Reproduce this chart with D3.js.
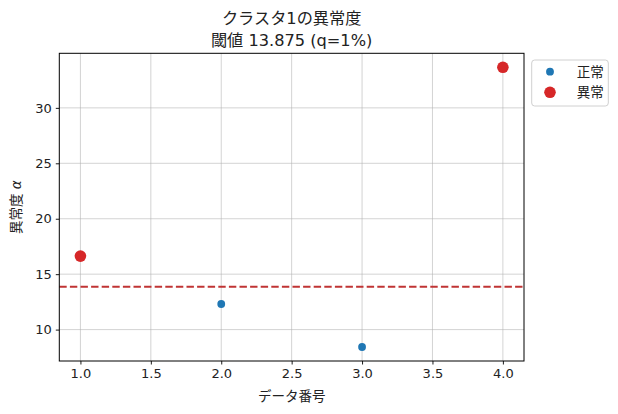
<!DOCTYPE html>
<html lang="ja">
<head>
  <meta charset="UTF-8">
  <title>クラスタ1の異常度</title>
  <script src="https://d3js.org/d3.v7.min.js"></script>
  <style>
    body {
      margin: 0;
      padding: 0;
      background: #fff;
      font-family: "DejaVu Sans", "Noto Sans CJK JP", sans-serif;
    }
    svg text {
      fill: #222;
    }
  </style>
</head>
<body>
  <div id="chart"></div>

  <script>
    // data
    const dataIndex = [1, 2, 3, 4];
    const scores = [16.63, 12.31, 8.43, 33.66];
    const isAnomaly = [true, false, false, true];
    const threshold = 13.875;

    const xTicks = [1.0, 1.5, 2.0, 2.5, 3.0, 3.5, 4.0];
    const yTicks = [10, 15, 20, 25, 30];
    const legendLabels = ["正常", "異常"];

    const width = 618;
    const height = 414;
    const plot = { left: 59.3, right: 524, top: 53.3, bottom: 361 };
    const font = "'DejaVu Sans', 'Noto Sans CJK JP', sans-serif";

    const blue = "#1f77b4";
    const red = "#d62728";

    const svg = d3.select("#chart")
      .append("svg")
      .attr("width", width)
      .attr("height", height)
      .style("font-family", font);

    // matplotlib style 5% margins
    const xExt = d3.extent(dataIndex);
    const xPad = (xExt[1] - xExt[0]) * 0.05;
    const yExt = d3.extent(scores);
    const yPad = (yExt[1] - yExt[0]) * 0.05;

    const x = d3.scaleLinear()
      .domain([xExt[0] - xPad, xExt[1] + xPad])
      .range([plot.left, plot.right]);

    const y = d3.scaleLinear()
      .domain([yExt[0] - yPad, yExt[1] + yPad])
      .range([plot.bottom, plot.top]);

    // grid
    const grid = svg.append("g");
    grid.selectAll(".gx")
      .data(xTicks)
      .join("line")
      .attr("x1", d => x(d)).attr("x2", d => x(d))
      .attr("y1", plot.top).attr("y2", plot.bottom)
      .attr("stroke", "#b0b0b0").attr("stroke-opacity", 0.7).attr("stroke-width", 0.8);
    grid.selectAll(".gy")
      .data(yTicks)
      .join("line")
      .attr("x1", plot.left).attr("x2", plot.right)
      .attr("y1", d => y(d)).attr("y2", d => y(d))
      .attr("stroke", "#b0b0b0").attr("stroke-opacity", 0.7).attr("stroke-width", 0.8);

    // threshold line
    svg.append("line")
      .attr("x1", plot.left).attr("x2", plot.right)
      .attr("y1", y(threshold)).attr("y2", y(threshold))
      .attr("stroke", "#c03434")
      .attr("stroke-width", 2)
      .attr("stroke-dasharray", "7.4 3.2");

    // points
    const pts = dataIndex.map((d, i) => ({ x: d, v: scores[i], a: isAnomaly[i] }));
    svg.append("g")
      .selectAll("circle")
      .data(pts)
      .join("circle")
      .attr("cx", d => x(d.x))
      .attr("cy", d => y(d.v))
      .attr("r", d => d.a ? 5.8 : 3.9)
      .attr("fill", d => d.a ? red : blue);

    // axes
    const xAxis = svg.append("g")
      .attr("transform", `translate(0,${plot.bottom})`)
      .call(d3.axisBottom(x).tickValues(xTicks).tickFormat(d3.format(".1f")).tickSize(3.5).tickPadding(4));
    const yAxis = svg.append("g")
      .attr("transform", `translate(${plot.left},0)`)
      .call(d3.axisLeft(y).tickValues(yTicks).tickSize(3.5).tickPadding(4));

    [xAxis, yAxis].forEach(ax => {
      ax.select(".domain").remove();
      ax.selectAll("line").attr("stroke", "#000").attr("stroke-width", 0.9);
      ax.selectAll("text")
        .style("font-family", font)
        .style("font-size", "13px")
        .attr("fill", "#222");
    });

    // frame
    svg.append("rect")
      .attr("x", plot.left).attr("y", plot.top)
      .attr("width", plot.right - plot.left)
      .attr("height", plot.bottom - plot.top)
      .attr("fill", "none")
      .attr("stroke", "#000")
      .attr("stroke-width", 1);

    // titles
    const cx = (plot.left + plot.right) / 2;
    svg.append("text")
      .attr("x", cx).attr("y", 24)
      .attr("text-anchor", "middle")
      .style("font-size", "16.2px")
      .text("クラスタ1の異常度");
    svg.append("text")
      .attr("x", cx).attr("y", 46)
      .attr("text-anchor", "middle")
      .style("font-size", "16.2px")
      .text("閾値 13.875 (q=1%)");

    svg.append("text")
      .attr("x", cx).attr("y", 401)
      .attr("text-anchor", "middle")
      .style("font-size", "13.5px")
      .text("データ番号");

    const yl = svg.append("text")
      .attr("transform", `translate(21,${(plot.top + plot.bottom) / 2}) rotate(-90)`)
      .attr("text-anchor", "middle")
      .style("font-size", "13.5px");
    yl.append("tspan").text("異常度 ");
    yl.append("tspan").style("font-style", "italic").text("α");

    // legend
    const lg = svg.append("g").attr("transform", "translate(531.7,60)");
    lg.append("rect")
      .attr("width", 76.6).attr("height", 46)
      .attr("rx", 3)
      .attr("fill", "#fff").attr("fill-opacity", 0.8)
      .attr("stroke", "#d0d0d0");
    legendLabels.forEach((label, i) => {
      const ly = 11.7 + i * 20.6;
      lg.append("circle")
        .attr("cx", 18.3).attr("cy", ly)
        .attr("r", i === 0 ? 3.9 : 5.8)
        .attr("fill", i === 0 ? blue : red);
      lg.append("text")
        .attr("x", 45).attr("y", ly + 4.8)
        .style("font-size", "13.5px")
        .text(label);
    });
  </script>
</body>
</html>
